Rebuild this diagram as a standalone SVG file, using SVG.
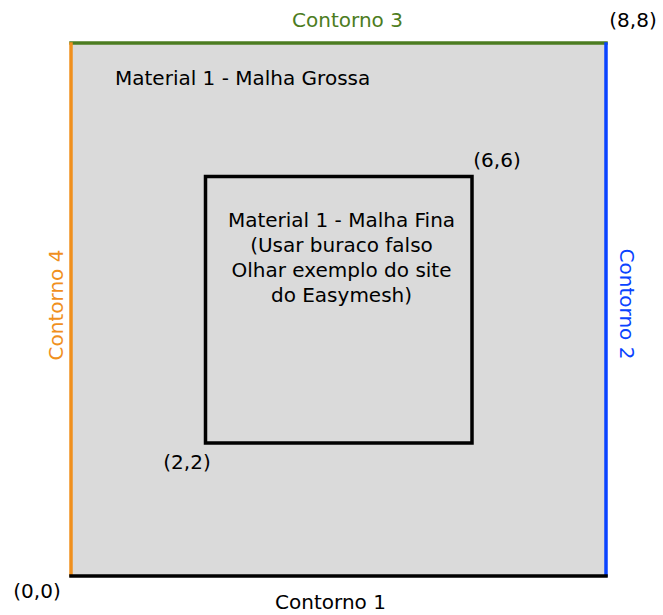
<svg xmlns="http://www.w3.org/2000/svg" width="663" height="615" viewBox="0 0 663 615">
<style>
text{font-family:"DejaVu Sans","Verdana",sans-serif;font-size:20px;fill:#000}
.g{fill:#4C7C21}.o{fill:#F0901E}.b{fill:#0A43FF}
</style>
<rect x="0" y="0" width="663" height="615" fill="#fff"/>
<g id="outer">
<rect x="71" y="43" width="535" height="533" fill="#DADADA"/>
<text x="115" y="85">Material 1 - Malha Grossa</text>
</g>
<g id="inner">
<rect x="205.5" y="176.5" width="266.5" height="266.5" fill="none" stroke="#000" stroke-width="3.5"/>
<text text-anchor="middle" x="341.5" y="227">Material 1 - Malha Fina</text>
<text text-anchor="middle" x="341.5" y="252">(Usar buraco falso</text>
<text text-anchor="middle" x="341.5" y="277">Olhar exemplo do site</text>
<text text-anchor="middle" x="341.5" y="302">do Easymesh)</text>
</g>
<g id="connectors" stroke-width="3.5" stroke-linecap="square">
<line x1="71" y1="43" x2="606" y2="43" stroke="#4C7C21"/>
<line x1="71" y1="44" x2="71" y2="575" stroke="#F0901E"/>
<line x1="606" y1="44" x2="606" y2="575" stroke="#0A43FF"/>
<line x1="71" y1="576" x2="606" y2="576" stroke="#000"/>
</g>
<g id="labels">
<text class="g" text-anchor="middle" x="347.5" y="27">Contorno 3</text>
<text text-anchor="middle" x="330.5" y="609">Contorno 1</text>
<text class="o" text-anchor="middle" transform="translate(63,305) rotate(-90)">Contorno 4</text>
<text class="b" text-anchor="middle" transform="translate(620,304) rotate(90)">Contorno 2</text>
<text text-anchor="middle" x="633" y="27">(8,8)</text>
<text text-anchor="middle" x="497" y="167">(6,6)</text>
<text text-anchor="middle" x="187" y="469">(2,2)</text>
<text text-anchor="middle" x="37" y="598">(0,0)</text>
</g>
</svg>
